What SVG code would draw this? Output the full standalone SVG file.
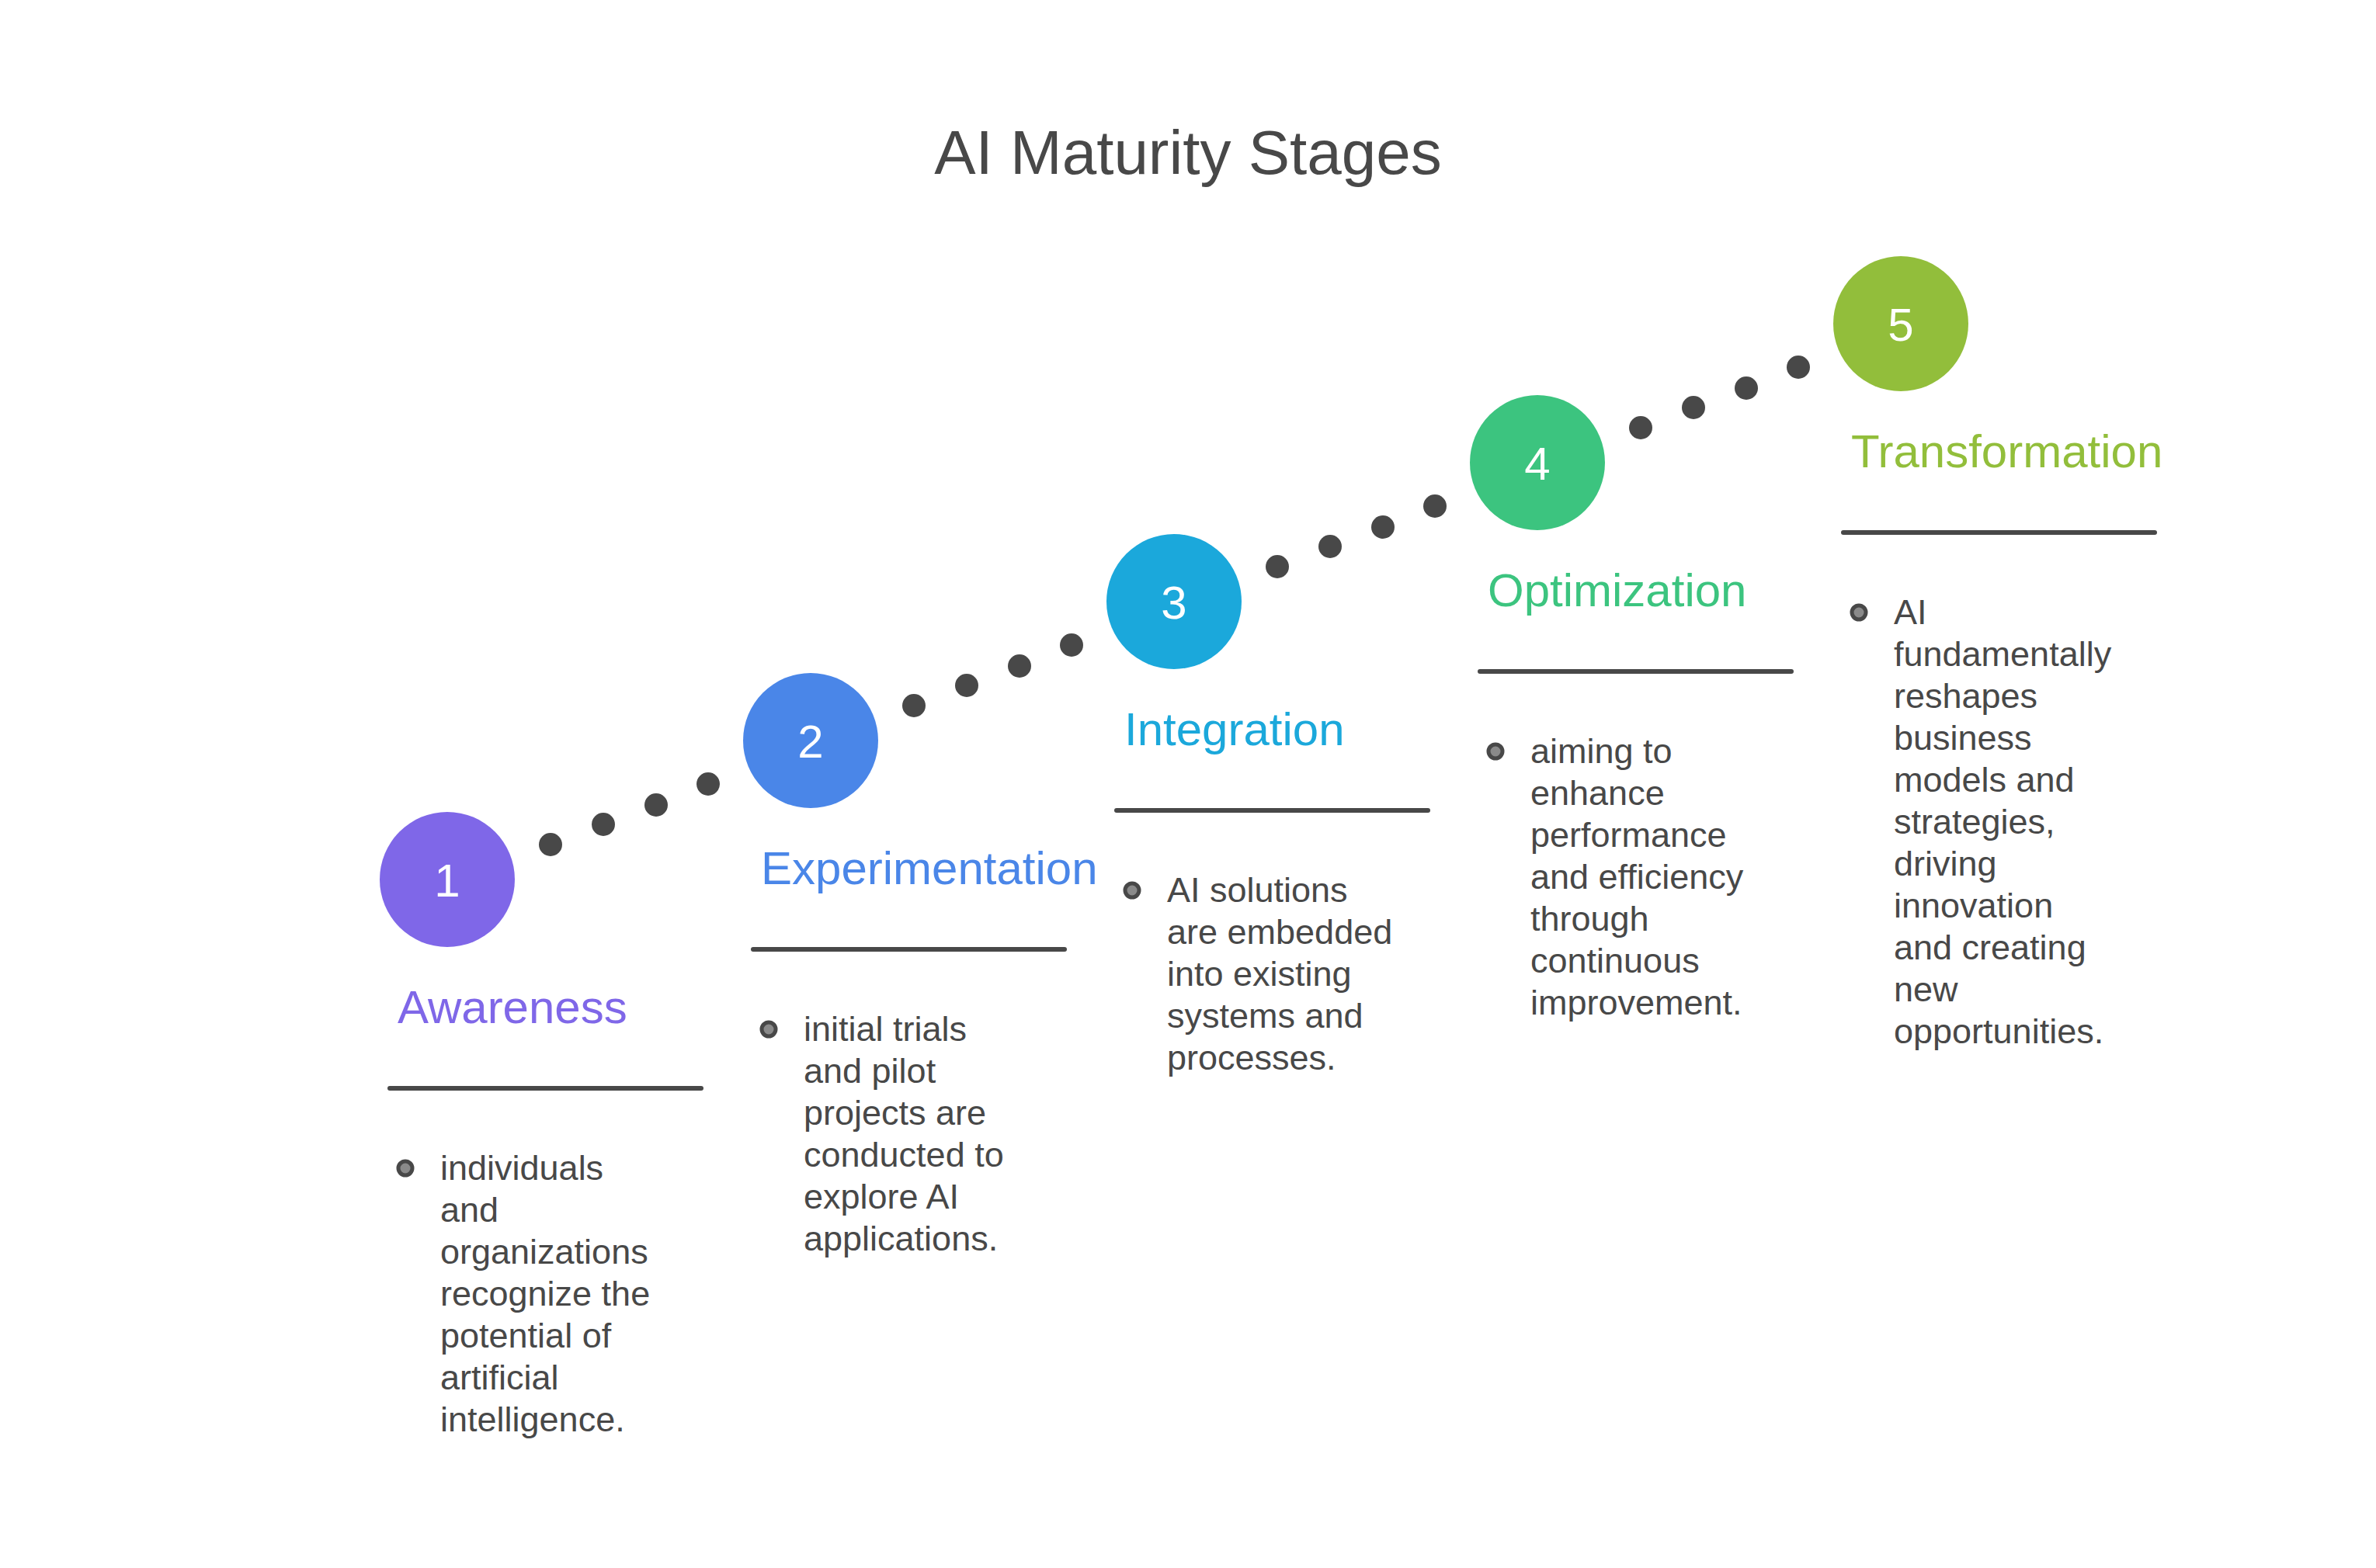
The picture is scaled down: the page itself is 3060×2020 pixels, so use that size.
<svg xmlns="http://www.w3.org/2000/svg" width="3060" height="2020" viewBox="0 0 3060 2020">
<style>
text{font-family:"Liberation Sans",Arial,sans-serif}
.num{fill:#fff;font-size:60px;text-anchor:middle}
.ttl{font-size:60px}
.body{fill:#484848;font-size:45px}
.rule{stroke:#484848;stroke-width:6;stroke-linecap:round}
.bul{fill:#8a8a8a;stroke:#484848;stroke-width:5}
.dot{fill:#484848}
</style>
<rect width="3060" height="2020" fill="#fff"/>
<text x="1530" y="224" font-size="80" fill="#484848" text-anchor="middle">AI Maturity Stages</text>
<g id="connectors">
<circle class="dot" cx="709" cy="1088" r="15"/><circle class="dot" cx="777" cy="1062" r="15"/><circle class="dot" cx="845" cy="1037" r="15"/><circle class="dot" cx="912" cy="1010" r="15"/>
<circle class="dot" cx="1177" cy="909" r="15"/><circle class="dot" cx="1245" cy="883" r="15"/><circle class="dot" cx="1313" cy="858" r="15"/><circle class="dot" cx="1380" cy="831" r="15"/>
<circle class="dot" cx="1645" cy="730" r="15"/><circle class="dot" cx="1713" cy="704" r="15"/><circle class="dot" cx="1781" cy="679" r="15"/><circle class="dot" cx="1848" cy="652" r="15"/>
<circle class="dot" cx="2113" cy="551" r="15"/><circle class="dot" cx="2181" cy="525" r="15"/><circle class="dot" cx="2249" cy="500" r="15"/><circle class="dot" cx="2316" cy="473" r="15"/>
</g>
<g id="stage1" transform="translate(576,1133)">
<circle r="87" fill="#7F67E8"/><text class="num" y="22">1</text>
<text class="ttl" x="-64" y="185" fill="#7F67E8">Awareness</text>
<line class="rule" x1="-74" y1="269" x2="327" y2="269"/>
<circle class="bul" cx="-54" cy="372" r="9"/>
<text class="body" y="387"><tspan x="-9">individuals</tspan><tspan x="-9" dy="54">and</tspan><tspan x="-9" dy="54">organizations</tspan><tspan x="-9" dy="54">recognize the</tspan><tspan x="-9" dy="54">potential of</tspan><tspan x="-9" dy="54">artificial</tspan><tspan x="-9" dy="54">intelligence.</tspan></text>
</g>
<g id="stage2" transform="translate(1044,954)">
<circle r="87" fill="#4A86E8"/><text class="num" y="22">2</text>
<text class="ttl" x="-64" y="185" fill="#4A86E8">Experimentation</text>
<line class="rule" x1="-74" y1="269" x2="327" y2="269"/>
<circle class="bul" cx="-54" cy="372" r="9"/>
<text class="body" y="387"><tspan x="-9">initial trials</tspan><tspan x="-9" dy="54">and pilot</tspan><tspan x="-9" dy="54">projects are</tspan><tspan x="-9" dy="54">conducted to</tspan><tspan x="-9" dy="54">explore AI</tspan><tspan x="-9" dy="54">applications.</tspan></text>
</g>
<g id="stage3" transform="translate(1512,775)">
<circle r="87" fill="#1BA8DB"/><text class="num" y="22">3</text>
<text class="ttl" x="-64" y="185" fill="#1BA8DB">Integration</text>
<line class="rule" x1="-74" y1="269" x2="327" y2="269"/>
<circle class="bul" cx="-54" cy="372" r="9"/>
<text class="body" y="387"><tspan x="-9">AI solutions</tspan><tspan x="-9" dy="54">are embedded</tspan><tspan x="-9" dy="54">into existing</tspan><tspan x="-9" dy="54">systems and</tspan><tspan x="-9" dy="54">processes.</tspan></text>
</g>
<g id="stage4" transform="translate(1980,596)">
<circle r="87" fill="#3CC47F"/><text class="num" y="22">4</text>
<text class="ttl" x="-64" y="185" fill="#3CC47F">Optimization</text>
<line class="rule" x1="-74" y1="269" x2="327" y2="269"/>
<circle class="bul" cx="-54" cy="372" r="9"/>
<text class="body" y="387"><tspan x="-9">aiming to</tspan><tspan x="-9" dy="54">enhance</tspan><tspan x="-9" dy="54">performance</tspan><tspan x="-9" dy="54">and efficiency</tspan><tspan x="-9" dy="54">through</tspan><tspan x="-9" dy="54">continuous</tspan><tspan x="-9" dy="54">improvement.</tspan></text>
</g>
<g id="stage5" transform="translate(2448,417)">
<circle r="87" fill="#92BE3B"/><text class="num" y="22">5</text>
<text class="ttl" x="-64" y="185" fill="#92BE3B">Transformation</text>
<line class="rule" x1="-74" y1="269" x2="327" y2="269"/>
<circle class="bul" cx="-54" cy="372" r="9"/>
<text class="body" y="387"><tspan x="-9">AI</tspan><tspan x="-9" dy="54">fundamentally</tspan><tspan x="-9" dy="54">reshapes</tspan><tspan x="-9" dy="54">business</tspan><tspan x="-9" dy="54">models and</tspan><tspan x="-9" dy="54">strategies,</tspan><tspan x="-9" dy="54">driving</tspan><tspan x="-9" dy="54">innovation</tspan><tspan x="-9" dy="54">and creating</tspan><tspan x="-9" dy="54">new</tspan><tspan x="-9" dy="54">opportunities.</tspan></text>
</g>
</svg>
